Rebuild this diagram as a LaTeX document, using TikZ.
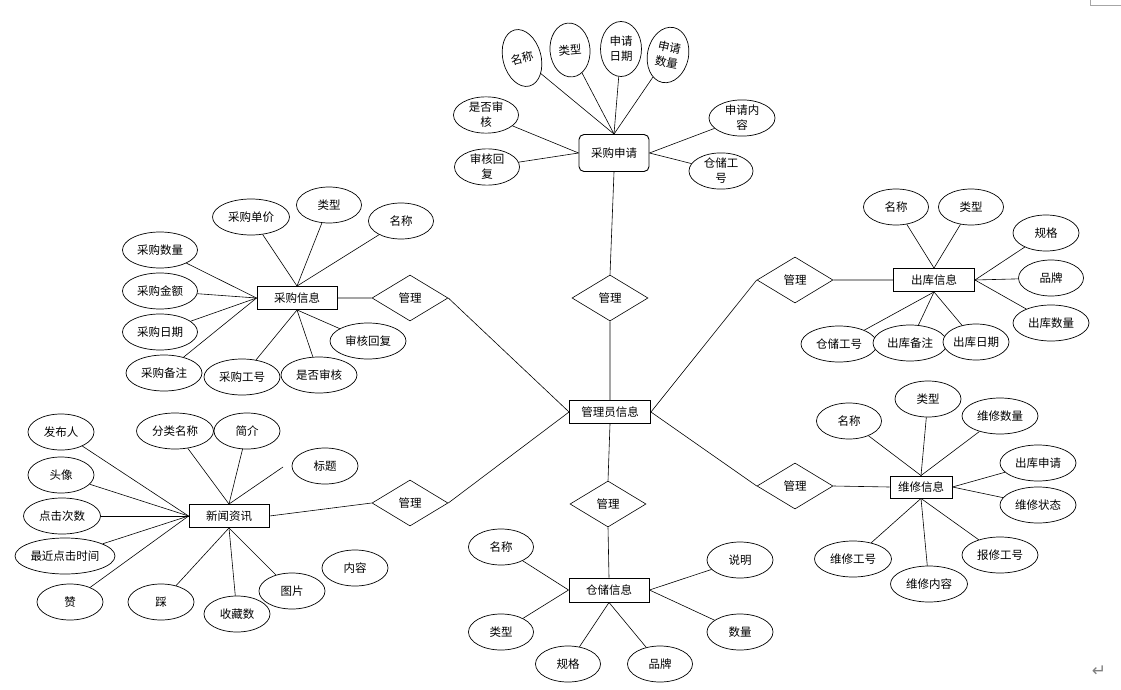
\documentclass[tikz,border=0pt]{standalone}
\usepackage{fontspec}
\setmainfont{Noto Sans CJK SC}
\newfontfamily\symfont{DejaVu Sans}
\usetikzlibrary{shapes.geometric}

\tikzset{
    entity/.style={draw,line width=0.9pt,minimum width=80pt,minimum height=23pt,inner sep=1pt},
    attr/.style={draw,fill=white,ellipse,line width=0.7pt,minimum height=36pt,inner sep=0pt,align=center},
    rel/.style={draw,diamond,line width=0.6pt,minimum width=76pt,minimum height=46pt,inner sep=0pt},
    link/.style={line width=0.6pt}
}

\begin{document}
\begin{tikzpicture}[x=1pt,y=-1pt,font=\fontsize{11.5}{15}\selectfont]
    
        \useasboundingbox (0,0) rectangle (1121,690);
        
        % Entities
        \node[entity,rounded corners=5pt,minimum width=70pt,minimum height=37pt] (cgsq) at (614,153) {采购申请};
        \node[entity,minimum width=81pt] (gly) at (610,412) {管理员信息};
        \node[entity] (cgxx) at (297,298) {采购信息};
        \node[entity] (xwzx) at (229,516) {新闻资讯};
        \node[entity,minimum width=81pt] (ckxx) at (934,280) {出库信息};
        \node[entity,minimum width=62pt,minimum height=22pt] (wxxx) at (921,487) {维修信息};
        \node[entity,minimum height=24pt] (ccxx) at (609,590) {仓储信息};
        
        % Relations
        \foreach \n/\x/\y in {r1/410/298, r2/610/298, r3/410/503, r4/608/504, r5/795/280, r6/795/486}
            {
            \node[rel] (\n) at (\x,\y) {管理};
            }
        
        \draw[link] (cgsq.south) -- (r2.north) (r2.south) -- (gly.north);
        \draw[link] (cgxx.east) -- (r1.west) (r1.east) -- (gly.west);
        \draw[link] (xwzx.east) -- (r3.west) (r3.east) -- (gly.west);
        \draw[link] (gly.south) -- (r4.north) (r4.south) -- (ccxx.north);
        \draw[link] (gly.east) -- (r5.west) (r5.east) -- (ckxx.west);
        \draw[link] (gly.east) -- (r6.west) (r6.east) -- (wxxx.west);
        
        % Attributes of 采购申请 (upright ones tilted)
        \node[attr,minimum width=38pt,minimum height=58pt,rotate=15] (sqmc) at (522,58) {名称};
        \node[attr,minimum width=40pt,minimum height=54pt,rotate=5] (sqlx) at (570,50) {类型};
        \node[attr,minimum width=41pt,minimum height=55pt] (sqrq) at (621,49) {申请\\日期};
        \node[attr,minimum width=41pt,minimum height=56pt,rotate=-12] (sqsl) at (668,55) {申请\\数量};
        \foreach \n/\x/\y/\w/\t in {sqsf/486/115/65/{是否审\\核}, sqhf/487/167/65/{审核回\\复},
                sqnr/742/118/66/{申请内\\容}, sqgh/721/171/64/{仓储工\\号}}
            {
            \node[attr,minimum width=\w pt] (\n) at (\x,\y) {\t};
            }
        
        % Attributes of 采购信息
        \foreach \n/\x/\y/\w/\t in {cgdj/251/217/77/采购单价, cglx/329/205/65/类型, cgmc/401/221/65/名称,
                cgsl/160/250/75/采购数量, cgje/160/291/75/采购金额, cgrq/160/332/75/采购日期,
                cgbz/164/373/76/采购备注, cggh/242/377/76/采购工号, cgsh/319/375/76/是否审核,
                cghf/368/341/76/审核回复}
            {
            \node[attr,minimum width=\w pt] (\n) at (\x,\y) {\t};
            }
        
        % Attributes of 新闻资讯
        \foreach \n/\x/\y/\w/\t in {xwfb/61/432/66/发布人, xwtx/61/475/66/头像, xwdj/62/516/77/点击次数,
                xwzj/65/556/100/最近点击时间, xwz/70/602/66/赞, xwfl/175/431/77/分类名称,
                xwjj/247/431/66/简介, xwbt/325/466/66/标题, xwc/161/602/66/踩,
                xwtp/292/591/66/图片, xwsc/237/614/66/收藏数, xwnr/355/568/66/内容}
            {
            \node[attr,minimum width=\w pt] (\n) at (\x,\y) {\t};
            }
        \coordinate (xwbtend) at (283,467);
        
        % Attributes of 出库信息
        \foreach \n/\x/\y/\w/\t in {ckmc/896/207/65/名称, cklx/971/207/65/类型, ckgg/1046/233/66/规格,
                ckpp/1051/278/65/品牌, cksl/1051/323/76/出库数量, ckgh/839/344/76/仓储工号,
                ckbz/910/343/74/出库备注, ckrq/976/342/66/出库日期}
            {
            \node[attr,minimum width=\w pt] (\n) at (\x,\y) {\t};
            }
        
        % Attributes of 维修信息
        \foreach \n/\x/\y/\w/\t in {wxmc/849/421/65/名称, wxlx/928/399/66/类型, wxsl/1000/416/76/维修数量,
                wxsq/1038/463/76/出库申请, wxzt/1038/505/76/维修状态, wxgh/853/559/77/维修工号,
                wxnr/929/584/77/维修内容, wxbx/1000/555/76/报修工号}
            {
            \node[attr,minimum width=\w pt] (\n) at (\x,\y) {\t};
            }
        
        % Attributes of 仓储信息
        \foreach \n/\x/\y/\w/\t in {ccmc/501/547/65/名称, cclx/501/632/65/类型, ccgg/568/664/65/规格,
                ccpp/660/664/65/品牌, ccsm/740/560/66/说明, ccsl/740/632/66/数量}
            {
            \node[attr,minimum width=\w pt] (\n) at (\x,\y) {\t};
            }
        
        %%%%Links entity -- attribute
        \foreach \a/\b in {cgsq.north/sqmc, cgsq.north/sqlx, cgsq.north/sqrq, cgsq.north/sqsl,
                cgsq.west/sqsf, cgsq.west/sqhf, cgsq.east/sqnr, cgsq.east/sqgh,
                cgxx.north/cgdj, cgxx.north/cglx, cgxx.north/cgmc, cgxx.west/cgsl, cgxx.west/cgje,
                cgxx.west/cgrq, cgxx.west/cgbz, cgxx.south/cggh, cgxx.south/cgsh, cgxx.south/cghf,
                xwzx.west/xwfb, xwzx.west/xwtx, xwzx.west/xwdj, xwzx.west/xwzj, xwzx.west/xwz,
                xwzx.north/xwfl, xwzx.north/xwjj, xwzx.north/xwbtend,
                xwzx.south/xwc, xwzx.south/xwsc, xwzx.south/xwtp,
                ckxx.north/ckmc, ckxx.north/cklx, ckxx.east/ckgg, ckxx.east/ckpp, ckxx.east/cksl,
                ckxx.south/ckgh, ckxx.south/ckbz, ckxx.south/ckrq,
                wxxx.north/wxmc, wxxx.north/wxlx, wxxx.north/wxsl, wxxx.east/wxsq, wxxx.east/wxzt,
                wxxx.south/wxgh, wxxx.south/wxnr, wxxx.south/wxbx,
                ccxx.west/ccmc, ccxx.west/cclx, ccxx.south/ccgg, ccxx.south/ccpp,
                ccxx.east/ccsm, ccxx.east/ccsl}
            {
            \draw[link] (\a) -- (\b);
            }
        
        % Page marks
        \draw[gray!70,line width=0.8pt] (1090,0) -- (1090,5) -- (1121,5);
        \node[text=gray,font=\symfont\fontsize{17}{17}\selectfont] (enter) at (1099,671) {↵};
        
    \end{tikzpicture}
\end{document}
